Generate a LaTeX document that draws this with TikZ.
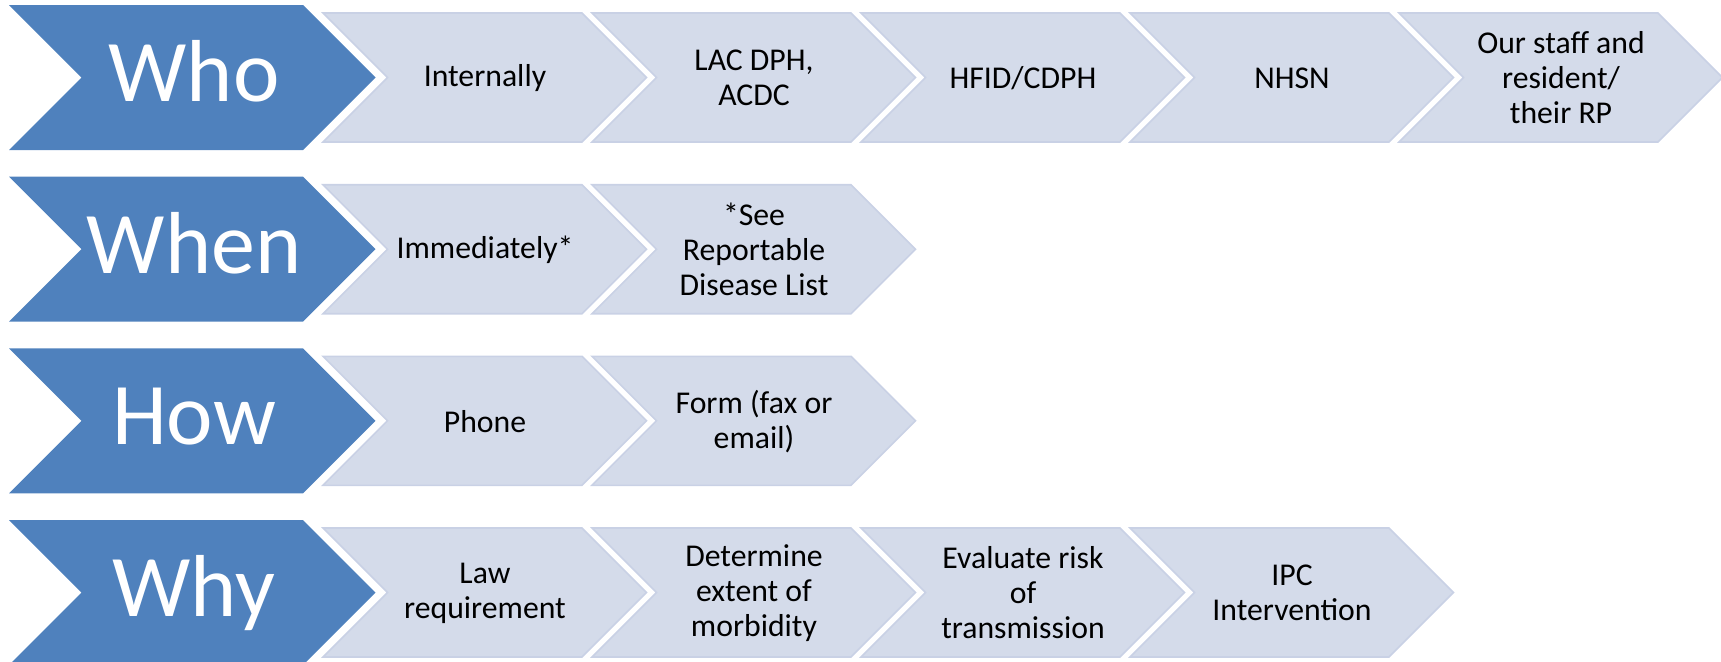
\documentclass[tikz,border=0pt]{standalone}
\usepackage{fontspec}
\setmainfont{Carlito}
\definecolor{darkblue}{HTML}{4F81BD}
\definecolor{lightfill}{HTML}{D4DBEA}
\definecolor{lightedge}{HTML}{C9D1E5}
\tikzset{
  bluechev/.style={fill=darkblue},
  lightchev/.style={fill=lightfill, draw=lightedge, line width=1.2pt, line join=miter},
  biglabel/.style={text=white, font=\fontsize{66}{70}\selectfont, inner sep=0pt, anchor=base},
  smalllabel/.style={text=black, font=\fontsize{23.8}{26.3}\selectfont, align=center, inner sep=0pt},
}
\newcommand\bluechevron[3]{%
  \fill[bluechev] (9,#2) -- (303,#2) -- (375.5,#2+72.5) -- (303,#2+145) -- (9,#2+145) -- (81.5,#2+72.5) -- cycle;
  \node[biglabel] (#1) at (194,#2+96.5) {#3};
}
\newcommand\lightchevron[4]{%
  \draw[lightchev] (323+269*#3,#2+8) -- (582+269*#3,#2+8) -- (646.5+269*#3,#2+72.5) -- (582+269*#3,#2+137) -- (323+269*#3,#2+137) -- (387.5+269*#3,#2+72.5) -- cycle;
  \node[smalllabel] (#1) at (485+269*#3,#2+73) {#4};
}
\begin{document}
\begin{tikzpicture}[x=0.75pt,y=-0.75pt]
\clip (0,0) rectangle (1721,661);
% Row 1: Who
\bluechevron{who}{5}{Who}
\lightchevron{who1}{5}{0}{Internally}
\lightchevron{who2}{5}{1}{LAC DPH,\\ACDC}
\lightchevron{who3}{5}{2}{HFID/CDPH}
\lightchevron{who4}{5}{3}{NHSN}
\lightchevron{who5}{5}{4}{Our staff and\\resident/\\their RP}
% Row 2: When
\bluechevron{when}{176.7}{When}
\lightchevron{when1}{176.7}{0}{Immediately*}
\lightchevron{when2}{176.7}{1}{*See\\Reportable\\Disease List}
% Row 3: How
\bluechevron{how}{348.3}{How}
\lightchevron{how1}{348.3}{0}{Phone}
\lightchevron{how2}{348.3}{1}{Form (fax or\\email)}
% Row 4: Why
\bluechevron{why}{520}{Why}
\lightchevron{why1}{520}{0}{Law\\requirement}
\lightchevron{why2}{520}{1}{Determine\\extent of\\morbidity}
\lightchevron{why3}{520}{2}{Evaluate risk\\of\\transmission}
\lightchevron{why4}{520}{3}{IPC\\Intervention}
\end{tikzpicture}
\end{document}
